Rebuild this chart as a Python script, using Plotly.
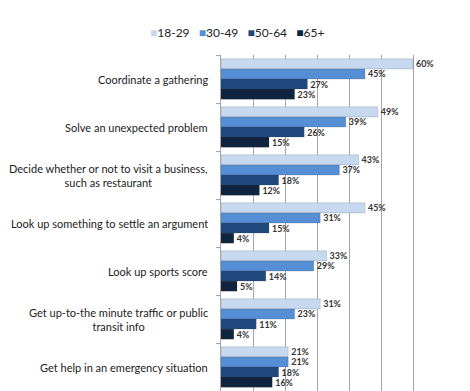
import plotly.graph_objects as go

categories = [
    "Coordinate a gathering",
    "Solve an unexpected problem",
    "Decide whether or not to visit a business,<br>such as restaurant",
    "Look up something to settle an argument",
    "Look up sports score",
    "Get up-to-the minute traffic or public<br>transit info",
    "Get help in an emergency situation",
]
series_names = ["18-29", "30-49", "50-64", "65+"]
values_18_29 = [60, 49, 43, 45, 33, 31, 21]
values_30_49 = [45, 39, 37, 31, 29, 23, 21]
values_50_64 = [27, 26, 18, 15, 14, 11, 18]
values_65 = [23, 15, 12, 4, 5, 4, 16]
series_values = [values_18_29, values_30_49, values_50_64, values_65]
colors = ["#C6D9F1", "#558ED5", "#1F497D", "#0F243E"]

FONT = "Lato"

# the page body has an 8px default margin; compensate so the plot lands where the reference has it
L, T, B = 213, 47, 8
W, H = 470, 391
R = W - (445 - 8)

fig = go.Figure()
for name, vals, col in zip(series_names, series_values, colors):
    fig.add_trace(go.Bar(
        y=categories, x=vals, name=name, orientation="h",
        marker=dict(color=col, line=dict(color="rgba(60,60,60,0.35)", width=0.5)),
        text=[f"<b>{v}%</b>" for v in vals], textposition="outside",
        textfont=dict(family=FONT, size=11.5, color="#333333"),
        cliponaxis=False, showlegend=False,
    ))

# category labels (centered multi-line, right-anchored)
for c in categories:
    fig.add_annotation(
        x=0, xref="paper", y=c, yref="y", text=c, showarrow=False,
        xanchor="right", yanchor="middle", align="center", xshift=-11,
        font=dict(family=FONT, size=11, color="#222222"),
    )

# legend built from series names and colors
legend_text = "&nbsp;&nbsp;&nbsp;".join(
    f'<span style="color:{col}">■</span>{name}' for name, col in zip(series_names, colors)
)
plot_h = H - T - B
plot_w = W - L - R
fig.add_annotation(
    xref="paper", x=(237 - 8 - L) / plot_w, yref="paper", y=1 + (55 - 32) / plot_h,
    xanchor="center", yanchor="middle", text=legend_text, showarrow=False,
    font=dict(family=FONT, size=12, color="#222222"),
)

fig.update_layout(
    width=W, height=H,
    margin=dict(l=L, r=R, t=T, b=B),
    paper_bgcolor="white", plot_bgcolor="white",
    barmode="group", bargap=0.16, bargroupgap=0,
    showlegend=False,
    font=dict(family=FONT),
)
fig.update_xaxes(range=[0, 70], dtick=10, showgrid=True, gridcolor="#A6A6A6", gridwidth=1,
                 showticklabels=False, zeroline=False, showline=False, ticks="")
fig.update_yaxes(type="category", autorange="reversed", showticklabels=False,
                 showline=True, linecolor="#A6A6A6", linewidth=1,
                 ticks="outside", tickson="boundaries", ticklen=4, tickcolor="#A6A6A6",
                 showgrid=False)

fig.write_html("out.html")
